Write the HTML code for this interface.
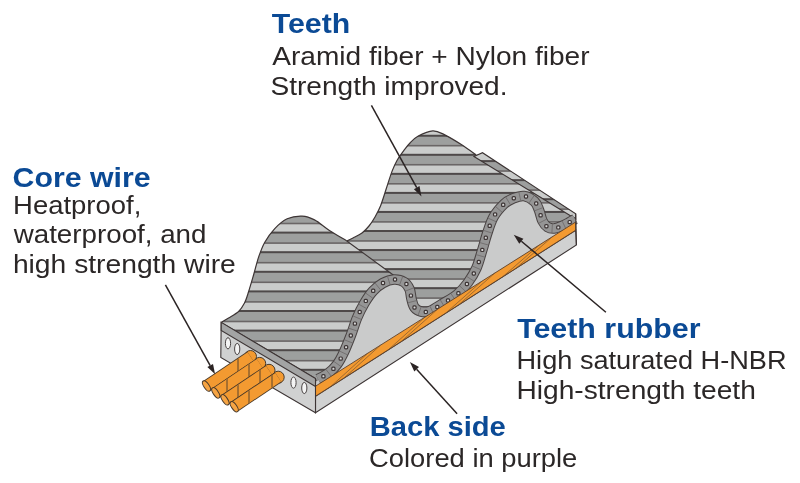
<!DOCTYPE html><html><head><meta charset="utf-8"><style>
html,body{margin:0;padding:0;background:#fff;width:800px;height:483px;overflow:hidden}
svg{display:block;will-change:transform}
.b{font-family:"Liberation Sans",sans-serif;font-weight:bold;fill:#0b4a95}
.r{font-family:"Liberation Sans",sans-serif;fill:#2b2727}
</style></head><body>
<svg width="800" height="483" viewBox="0 0 800 483">
<defs>
<clipPath id="ct1"><path d="M221.2,322.4 C222.4,321.7 225.7,319.8 228.6,318.0 C231.5,316.2 235.9,314.0 238.6,311.5 C241.2,309.0 242.8,306.2 244.5,303.0 C246.2,299.8 247.0,296.8 248.5,292.0 C250.0,287.2 252.0,280.3 253.7,274.5 C255.4,268.7 256.8,262.5 258.6,257.1 C260.5,251.7 262.1,246.9 264.8,242.2 C267.5,237.4 271.1,232.5 274.8,228.6 C278.5,224.7 282.6,220.9 287.2,218.8 C291.8,216.7 297.6,215.9 302.1,216.1 C306.7,216.3 309.9,217.5 314.5,219.9 C319.1,222.3 324.0,227.0 329.4,230.5 C334.8,234.0 343.9,239.2 346.8,241.0 L396,277 L400,290 L320,400 L315.5,378.5 Z"/></clipPath>
<clipPath id="ct2"><path d="M346.8,241.0 C347.8,240.5 350.5,239.3 353.0,238.0 C355.5,236.7 359.3,235.0 362.0,233.0 C364.7,231.0 366.8,228.7 369.0,226.0 C371.2,223.3 373.1,220.4 375.0,217.0 C376.9,213.6 378.7,210.5 380.6,205.7 C382.5,200.9 384.5,194.1 386.4,188.3 C388.3,182.5 390.4,175.5 392.2,170.9 C394.0,166.3 395.1,163.9 397.0,160.5 C398.9,157.1 401.6,153.5 403.8,150.6 C406.0,147.7 407.6,145.4 410.0,143.0 C412.4,140.6 414.5,138.0 418.3,136.0 C422.1,134.0 428.5,131.1 432.8,130.9 C437.1,130.7 439.5,132.3 444.3,134.6 C449.1,136.9 456.4,141.4 461.7,144.8 C467.0,148.2 473.8,153.3 476.2,155.0 L482.5,153.7 L575.7,213.8 L576,232 L430,330 L396,277 Z"/></clipPath>
<clipPath id="ct3"><polygon points="476.2,155.0 482.5,153.7 575.7,213.8 575.7,225.0 530.0,200.0 527.0,190.0"/></clipPath>
</defs>
<g clip-path="url(#ct2)"><rect x="150" y="120" width="470" height="220" fill="#9d9f9e"/>
<rect x="150" y="88.55" width="470" height="9.00" fill="#cacccb"/>
<rect x="150" y="87.75" width="470" height="1.6" fill="#6a6666"/>
<rect x="150" y="96.65" width="470" height="2.0" fill="#4e4949"/>
<rect x="150" y="107.60" width="470" height="9.00" fill="#cacccb"/>
<rect x="150" y="106.80" width="470" height="1.6" fill="#6a6666"/>
<rect x="150" y="115.70" width="470" height="2.0" fill="#4e4949"/>
<rect x="150" y="126.65" width="470" height="9.00" fill="#cacccb"/>
<rect x="150" y="125.85" width="470" height="1.6" fill="#6a6666"/>
<rect x="150" y="134.75" width="470" height="2.0" fill="#4e4949"/>
<rect x="150" y="145.70" width="470" height="9.00" fill="#cacccb"/>
<rect x="150" y="144.90" width="470" height="1.6" fill="#6a6666"/>
<rect x="150" y="153.80" width="470" height="2.0" fill="#4e4949"/>
<rect x="150" y="164.75" width="470" height="9.00" fill="#cacccb"/>
<rect x="150" y="163.95" width="470" height="1.6" fill="#6a6666"/>
<rect x="150" y="172.85" width="470" height="2.0" fill="#4e4949"/>
<rect x="150" y="183.80" width="470" height="9.00" fill="#cacccb"/>
<rect x="150" y="183.00" width="470" height="1.6" fill="#6a6666"/>
<rect x="150" y="191.90" width="470" height="2.0" fill="#4e4949"/>
<rect x="150" y="202.85" width="470" height="9.00" fill="#cacccb"/>
<rect x="150" y="202.05" width="470" height="1.6" fill="#6a6666"/>
<rect x="150" y="210.95" width="470" height="2.0" fill="#4e4949"/>
<rect x="150" y="221.90" width="470" height="9.00" fill="#cacccb"/>
<rect x="150" y="221.10" width="470" height="1.6" fill="#6a6666"/>
<rect x="150" y="230.00" width="470" height="2.0" fill="#4e4949"/>
<rect x="150" y="240.95" width="470" height="9.00" fill="#cacccb"/>
<rect x="150" y="240.15" width="470" height="1.6" fill="#6a6666"/>
<rect x="150" y="249.05" width="470" height="2.0" fill="#4e4949"/>
<rect x="150" y="260.00" width="470" height="9.00" fill="#cacccb"/>
<rect x="150" y="259.20" width="470" height="1.6" fill="#6a6666"/>
<rect x="150" y="268.10" width="470" height="2.0" fill="#4e4949"/>
<rect x="150" y="279.05" width="470" height="9.00" fill="#cacccb"/>
<rect x="150" y="278.25" width="470" height="1.6" fill="#6a6666"/>
<rect x="150" y="287.15" width="470" height="2.0" fill="#4e4949"/>
<rect x="150" y="298.10" width="470" height="9.00" fill="#cacccb"/>
<rect x="150" y="297.30" width="470" height="1.6" fill="#6a6666"/>
<rect x="150" y="306.20" width="470" height="2.0" fill="#4e4949"/>
<rect x="150" y="317.15" width="470" height="9.00" fill="#cacccb"/>
<rect x="150" y="316.35" width="470" height="1.6" fill="#6a6666"/>
<rect x="150" y="325.25" width="470" height="2.0" fill="#4e4949"/>
<rect x="150" y="336.20" width="470" height="9.00" fill="#cacccb"/>
<rect x="150" y="335.40" width="470" height="1.6" fill="#6a6666"/>
<rect x="150" y="344.30" width="470" height="2.0" fill="#4e4949"/></g>
<g clip-path="url(#ct1)"><rect x="150" y="200" width="470" height="190" fill="#9d9f9e"/>
<rect x="150" y="164.70" width="470" height="9.00" fill="#cacccb"/>
<rect x="150" y="163.90" width="470" height="1.6" fill="#6a6666"/>
<rect x="150" y="172.80" width="470" height="2.0" fill="#4e4949"/>
<rect x="150" y="184.30" width="470" height="9.00" fill="#cacccb"/>
<rect x="150" y="183.50" width="470" height="1.6" fill="#6a6666"/>
<rect x="150" y="192.40" width="470" height="2.0" fill="#4e4949"/>
<rect x="150" y="203.90" width="470" height="9.00" fill="#cacccb"/>
<rect x="150" y="203.10" width="470" height="1.6" fill="#6a6666"/>
<rect x="150" y="212.00" width="470" height="2.0" fill="#4e4949"/>
<rect x="150" y="223.50" width="470" height="9.00" fill="#cacccb"/>
<rect x="150" y="222.70" width="470" height="1.6" fill="#6a6666"/>
<rect x="150" y="231.60" width="470" height="2.0" fill="#4e4949"/>
<rect x="150" y="243.10" width="470" height="9.00" fill="#cacccb"/>
<rect x="150" y="242.30" width="470" height="1.6" fill="#6a6666"/>
<rect x="150" y="251.20" width="470" height="2.0" fill="#4e4949"/>
<rect x="150" y="262.70" width="470" height="9.00" fill="#cacccb"/>
<rect x="150" y="261.90" width="470" height="1.6" fill="#6a6666"/>
<rect x="150" y="270.80" width="470" height="2.0" fill="#4e4949"/>
<rect x="150" y="282.30" width="470" height="9.00" fill="#cacccb"/>
<rect x="150" y="281.50" width="470" height="1.6" fill="#6a6666"/>
<rect x="150" y="290.40" width="470" height="2.0" fill="#4e4949"/>
<rect x="150" y="301.90" width="470" height="9.00" fill="#cacccb"/>
<rect x="150" y="301.10" width="470" height="1.6" fill="#6a6666"/>
<rect x="150" y="310.00" width="470" height="2.0" fill="#4e4949"/>
<rect x="150" y="321.50" width="470" height="9.00" fill="#cacccb"/>
<rect x="150" y="320.70" width="470" height="1.6" fill="#6a6666"/>
<rect x="150" y="329.60" width="470" height="2.0" fill="#4e4949"/>
<rect x="150" y="341.10" width="470" height="9.00" fill="#cacccb"/>
<rect x="150" y="340.30" width="470" height="1.6" fill="#6a6666"/>
<rect x="150" y="349.20" width="470" height="2.0" fill="#4e4949"/>
<rect x="150" y="360.70" width="470" height="9.00" fill="#cacccb"/>
<rect x="150" y="359.90" width="470" height="1.6" fill="#6a6666"/>
<rect x="150" y="368.80" width="470" height="2.0" fill="#4e4949"/>
<rect x="150" y="380.30" width="470" height="9.00" fill="#cacccb"/>
<rect x="150" y="379.50" width="470" height="1.6" fill="#6a6666"/>
<rect x="150" y="388.40" width="470" height="2.0" fill="#4e4949"/></g>
<path d="M221.2,322.4 C222.4,321.7 225.7,319.8 228.6,318.0 C231.5,316.2 235.9,314.0 238.6,311.5 C241.2,309.0 242.8,306.2 244.5,303.0 C246.2,299.8 247.0,296.8 248.5,292.0 C250.0,287.2 252.0,280.3 253.7,274.5 C255.4,268.7 256.8,262.5 258.6,257.1 C260.5,251.7 262.1,246.9 264.8,242.2 C267.5,237.4 271.1,232.5 274.8,228.6 C278.5,224.7 282.6,220.9 287.2,218.8 C291.8,216.7 297.6,215.9 302.1,216.1 C306.7,216.3 309.9,217.5 314.5,219.9 C319.1,222.3 324.0,227.0 329.4,230.5 C334.8,234.0 343.9,239.2 346.8,241.0" fill="none" stroke="#3d3535" stroke-width="1.2"/>
<path d="M346.8,241.0 C347.8,240.5 350.5,239.3 353.0,238.0 C355.5,236.7 359.3,235.0 362.0,233.0 C364.7,231.0 366.8,228.7 369.0,226.0 C371.2,223.3 373.1,220.4 375.0,217.0 C376.9,213.6 378.7,210.5 380.6,205.7 C382.5,200.9 384.5,194.1 386.4,188.3 C388.3,182.5 390.4,175.5 392.2,170.9 C394.0,166.3 395.1,163.9 397.0,160.5 C398.9,157.1 401.6,153.5 403.8,150.6 C406.0,147.7 407.6,145.4 410.0,143.0 C412.4,140.6 414.5,138.0 418.3,136.0 C422.1,134.0 428.5,131.1 432.8,130.9 C437.1,130.7 439.5,132.3 444.3,134.6 C449.1,136.9 456.4,141.4 461.7,144.8 C467.0,148.2 473.8,153.3 476.2,155.0" fill="none" stroke="#3d3535" stroke-width="1.2"/>
<polyline points="346.8,241.0 396.0,277.0" fill="none" stroke="#3d3535" stroke-width="1.1"/>
<clipPath id="cst"><polygon points="474.0,156.5 482.5,152.7 575.7,213.8 575.7,219.0 540.0,197.0"/></clipPath>
<g clip-path="url(#cst)"><rect x="150" y="140" width="470" height="100" fill="#9d9f9e"/>
<rect x="150" y="113.90" width="470" height="9.00" fill="#cacccb"/>
<rect x="150" y="113.10" width="470" height="1.6" fill="#6a6666"/>
<rect x="150" y="122.00" width="470" height="2.0" fill="#4e4949"/>
<rect x="150" y="132.95" width="470" height="9.00" fill="#cacccb"/>
<rect x="150" y="132.15" width="470" height="1.6" fill="#6a6666"/>
<rect x="150" y="141.05" width="470" height="2.0" fill="#4e4949"/>
<rect x="150" y="152.00" width="470" height="9.00" fill="#cacccb"/>
<rect x="150" y="151.20" width="470" height="1.6" fill="#6a6666"/>
<rect x="150" y="160.10" width="470" height="2.0" fill="#4e4949"/>
<rect x="150" y="171.05" width="470" height="9.00" fill="#cacccb"/>
<rect x="150" y="170.25" width="470" height="1.6" fill="#6a6666"/>
<rect x="150" y="179.15" width="470" height="2.0" fill="#4e4949"/>
<rect x="150" y="190.10" width="470" height="9.00" fill="#cacccb"/>
<rect x="150" y="189.30" width="470" height="1.6" fill="#6a6666"/>
<rect x="150" y="198.20" width="470" height="2.0" fill="#4e4949"/>
<rect x="150" y="209.15" width="470" height="9.00" fill="#cacccb"/>
<rect x="150" y="208.35" width="470" height="1.6" fill="#6a6666"/>
<rect x="150" y="217.25" width="470" height="2.0" fill="#4e4949"/>
<rect x="150" y="228.20" width="470" height="9.00" fill="#cacccb"/>
<rect x="150" y="227.40" width="470" height="1.6" fill="#6a6666"/>
<rect x="150" y="236.30" width="470" height="2.0" fill="#4e4949"/></g>
<polygon points="474.0,156.5 482.5,152.7 575.7,213.8 575.7,219.0 540.0,197.0" fill="none" stroke="#3d3535" stroke-width="1.1"/>
<path d="M318.0,379.0 C319.7,378.1 324.8,375.9 328.0,373.5 C331.2,371.1 334.3,368.1 337.0,364.5 C339.7,360.9 341.7,356.9 344.0,352.0 C346.3,347.1 348.8,340.7 351.0,335.0 C353.2,329.3 354.8,323.3 357.0,318.0 C359.2,312.7 361.8,307.5 364.5,303.0 C367.2,298.5 369.9,294.3 373.0,291.0 C376.1,287.7 379.5,284.9 383.0,283.0 C386.5,281.1 390.5,279.7 394.0,279.5 C397.5,279.3 401.4,280.4 404.0,282.0 C406.6,283.6 408.2,286.2 409.5,289.0 C410.8,291.8 410.7,295.9 411.5,299.0 C412.3,302.1 412.9,305.4 414.5,307.5 C416.1,309.6 418.4,310.9 421.0,311.5 C423.6,312.1 426.5,312.2 430.0,311.0 C433.5,309.8 437.5,306.8 442.0,304.0 C446.5,301.2 452.7,298.1 457.0,294.5 C461.3,290.9 464.8,286.9 468.0,282.5 C471.2,278.1 474.2,273.2 476.5,268.0 C478.8,262.8 480.2,256.7 482.0,251.0 C483.8,245.3 485.1,239.7 487.0,234.0 C488.9,228.3 490.7,222.0 493.5,217.0 C496.3,212.0 500.8,207.1 504.0,204.0 C507.2,200.9 509.7,199.8 513.0,198.5 C516.3,197.2 520.4,195.5 524.0,196.0 C527.6,196.5 532.0,199.2 534.5,201.5 C537.0,203.8 537.7,206.8 539.0,210.0 C540.3,213.2 541.1,218.2 542.5,221.0 C543.9,223.8 545.6,225.8 547.5,227.0 C549.4,228.2 551.6,228.7 554.0,228.5 C556.4,228.3 559.5,227.0 562.0,226.0 C564.5,225.0 566.8,223.7 569.0,222.5 C571.2,221.3 574.0,219.6 575.0,219.0 L575.7,222.2 L315.5,386.4 Z" fill="#cacbcb" stroke="none"/>
<path d="M318.0,379.0 C319.7,378.1 324.8,375.9 328.0,373.5 C331.2,371.1 334.3,368.1 337.0,364.5 C339.7,360.9 341.7,356.9 344.0,352.0 C346.3,347.1 348.8,340.7 351.0,335.0 C353.2,329.3 354.8,323.3 357.0,318.0 C359.2,312.7 361.8,307.5 364.5,303.0 C367.2,298.5 369.9,294.3 373.0,291.0 C376.1,287.7 379.5,284.9 383.0,283.0 C386.5,281.1 390.5,279.7 394.0,279.5 C397.5,279.3 401.4,280.4 404.0,282.0 C406.6,283.6 408.2,286.2 409.5,289.0 C410.8,291.8 410.7,295.9 411.5,299.0 C412.3,302.1 412.9,305.4 414.5,307.5 C416.1,309.6 418.4,310.9 421.0,311.5 C423.6,312.1 426.5,312.2 430.0,311.0 C433.5,309.8 437.5,306.8 442.0,304.0 C446.5,301.2 452.7,298.1 457.0,294.5 C461.3,290.9 464.8,286.9 468.0,282.5 C471.2,278.1 474.2,273.2 476.5,268.0 C478.8,262.8 480.2,256.7 482.0,251.0 C483.8,245.3 485.1,239.7 487.0,234.0 C488.9,228.3 490.7,222.0 493.5,217.0 C496.3,212.0 500.8,207.1 504.0,204.0 C507.2,200.9 509.7,199.8 513.0,198.5 C516.3,197.2 520.4,195.5 524.0,196.0 C527.6,196.5 532.0,199.2 534.5,201.5 C537.0,203.8 537.7,206.8 539.0,210.0 C540.3,213.2 541.1,218.2 542.5,221.0 C543.9,223.8 545.6,225.8 547.5,227.0 C549.4,228.2 551.6,228.7 554.0,228.5 C556.4,228.3 559.5,227.0 562.0,226.0 C564.5,225.0 566.8,223.7 569.0,222.5 C571.2,221.3 574.0,219.6 575.0,219.0" fill="none" stroke="#4a4444" stroke-width="10.6" stroke-linejoin="round"/>
<path d="M318.0,379.0 C319.7,378.1 324.8,375.9 328.0,373.5 C331.2,371.1 334.3,368.1 337.0,364.5 C339.7,360.9 341.7,356.9 344.0,352.0 C346.3,347.1 348.8,340.7 351.0,335.0 C353.2,329.3 354.8,323.3 357.0,318.0 C359.2,312.7 361.8,307.5 364.5,303.0 C367.2,298.5 369.9,294.3 373.0,291.0 C376.1,287.7 379.5,284.9 383.0,283.0 C386.5,281.1 390.5,279.7 394.0,279.5 C397.5,279.3 401.4,280.4 404.0,282.0 C406.6,283.6 408.2,286.2 409.5,289.0 C410.8,291.8 410.7,295.9 411.5,299.0 C412.3,302.1 412.9,305.4 414.5,307.5 C416.1,309.6 418.4,310.9 421.0,311.5 C423.6,312.1 426.5,312.2 430.0,311.0 C433.5,309.8 437.5,306.8 442.0,304.0 C446.5,301.2 452.7,298.1 457.0,294.5 C461.3,290.9 464.8,286.9 468.0,282.5 C471.2,278.1 474.2,273.2 476.5,268.0 C478.8,262.8 480.2,256.7 482.0,251.0 C483.8,245.3 485.1,239.7 487.0,234.0 C488.9,228.3 490.7,222.0 493.5,217.0 C496.3,212.0 500.8,207.1 504.0,204.0 C507.2,200.9 509.7,199.8 513.0,198.5 C516.3,197.2 520.4,195.5 524.0,196.0 C527.6,196.5 532.0,199.2 534.5,201.5 C537.0,203.8 537.7,206.8 539.0,210.0 C540.3,213.2 541.1,218.2 542.5,221.0 C543.9,223.8 545.6,225.8 547.5,227.0 C549.4,228.2 551.6,228.7 554.0,228.5 C556.4,228.3 559.5,227.0 562.0,226.0 C564.5,225.0 566.8,223.7 569.0,222.5 C571.2,221.3 574.0,219.6 575.0,219.0" fill="none" stroke="#959595" stroke-width="8.6" stroke-linejoin="round"/>
<rect x="321.8" y="374.7" width="3.2" height="3.2" rx="1.0" fill="#d8d8d8" stroke="#3d3535" stroke-width="1.2"/>
<rect x="331.8" y="367.2" width="3.2" height="3.2" rx="1.0" fill="#d8d8d8" stroke="#3d3535" stroke-width="1.2"/>
<rect x="339.1" y="357.0" width="3.2" height="3.2" rx="1.0" fill="#d8d8d8" stroke="#3d3535" stroke-width="1.2"/>
<rect x="344.5" y="345.6" width="3.2" height="3.2" rx="1.0" fill="#d8d8d8" stroke="#3d3535" stroke-width="1.2"/>
<rect x="349.2" y="333.9" width="3.2" height="3.2" rx="1.0" fill="#d8d8d8" stroke="#3d3535" stroke-width="1.2"/>
<rect x="353.3" y="322.0" width="3.2" height="3.2" rx="1.0" fill="#d8d8d8" stroke="#3d3535" stroke-width="1.2"/>
<rect x="358.1" y="310.4" width="3.2" height="3.2" rx="1.0" fill="#d8d8d8" stroke="#3d3535" stroke-width="1.2"/>
<rect x="364.2" y="299.3" width="3.2" height="3.2" rx="1.0" fill="#d8d8d8" stroke="#3d3535" stroke-width="1.2"/>
<rect x="371.6" y="289.2" width="3.2" height="3.2" rx="1.0" fill="#d8d8d8" stroke="#3d3535" stroke-width="1.2"/>
<rect x="381.4" y="281.4" width="3.2" height="3.2" rx="1.0" fill="#d8d8d8" stroke="#3d3535" stroke-width="1.2"/>
<rect x="393.4" y="277.9" width="3.2" height="3.2" rx="1.0" fill="#d8d8d8" stroke="#3d3535" stroke-width="1.2"/>
<rect x="404.8" y="282.4" width="3.2" height="3.2" rx="1.0" fill="#d8d8d8" stroke="#3d3535" stroke-width="1.2"/>
<rect x="409.3" y="294.0" width="3.2" height="3.2" rx="1.0" fill="#d8d8d8" stroke="#3d3535" stroke-width="1.2"/>
<rect x="412.9" y="305.9" width="3.2" height="3.2" rx="1.0" fill="#d8d8d8" stroke="#3d3535" stroke-width="1.2"/>
<rect x="424.2" y="310.3" width="3.2" height="3.2" rx="1.0" fill="#d8d8d8" stroke="#3d3535" stroke-width="1.2"/>
<rect x="435.7" y="305.4" width="3.2" height="3.2" rx="1.0" fill="#d8d8d8" stroke="#3d3535" stroke-width="1.2"/>
<rect x="446.4" y="298.9" width="3.2" height="3.2" rx="1.0" fill="#d8d8d8" stroke="#3d3535" stroke-width="1.2"/>
<rect x="456.8" y="291.7" width="3.2" height="3.2" rx="1.0" fill="#d8d8d8" stroke="#3d3535" stroke-width="1.2"/>
<rect x="465.3" y="282.4" width="3.2" height="3.2" rx="1.0" fill="#d8d8d8" stroke="#3d3535" stroke-width="1.2"/>
<rect x="472.2" y="271.9" width="3.2" height="3.2" rx="1.0" fill="#d8d8d8" stroke="#3d3535" stroke-width="1.2"/>
<rect x="477.2" y="260.4" width="3.2" height="3.2" rx="1.0" fill="#d8d8d8" stroke="#3d3535" stroke-width="1.2"/>
<rect x="480.7" y="248.3" width="3.2" height="3.2" rx="1.0" fill="#d8d8d8" stroke="#3d3535" stroke-width="1.2"/>
<rect x="484.2" y="236.2" width="3.2" height="3.2" rx="1.0" fill="#d8d8d8" stroke="#3d3535" stroke-width="1.2"/>
<rect x="488.1" y="224.2" width="3.2" height="3.2" rx="1.0" fill="#d8d8d8" stroke="#3d3535" stroke-width="1.2"/>
<rect x="493.5" y="212.8" width="3.2" height="3.2" rx="1.0" fill="#d8d8d8" stroke="#3d3535" stroke-width="1.2"/>
<rect x="501.6" y="203.2" width="3.2" height="3.2" rx="1.0" fill="#d8d8d8" stroke="#3d3535" stroke-width="1.2"/>
<rect x="512.2" y="196.6" width="3.2" height="3.2" rx="1.0" fill="#d8d8d8" stroke="#3d3535" stroke-width="1.2"/>
<rect x="524.4" y="194.9" width="3.2" height="3.2" rx="1.0" fill="#d8d8d8" stroke="#3d3535" stroke-width="1.2"/>
<rect x="534.6" y="201.9" width="3.2" height="3.2" rx="1.0" fill="#d8d8d8" stroke="#3d3535" stroke-width="1.2"/>
<rect x="539.0" y="213.7" width="3.2" height="3.2" rx="1.0" fill="#d8d8d8" stroke="#3d3535" stroke-width="1.2"/>
<rect x="544.8" y="224.6" width="3.2" height="3.2" rx="1.0" fill="#d8d8d8" stroke="#3d3535" stroke-width="1.2"/>
<rect x="556.7" y="225.8" width="3.2" height="3.2" rx="1.0" fill="#d8d8d8" stroke="#3d3535" stroke-width="1.2"/>
<rect x="568.1" y="220.5" width="3.2" height="3.2" rx="1.0" fill="#d8d8d8" stroke="#3d3535" stroke-width="1.2"/>
<line x1="326.0" y1="369.5" x2="331.4" y2="376.4" stroke="#666262" stroke-width="0.7"/>
<line x1="333.8" y1="361.4" x2="341.0" y2="366.5" stroke="#666262" stroke-width="0.7"/>
<line x1="339.6" y1="351.1" x2="347.5" y2="354.8" stroke="#666262" stroke-width="0.7"/>
<line x1="344.4" y1="339.8" x2="352.6" y2="343.0" stroke="#666262" stroke-width="0.7"/>
<line x1="348.7" y1="328.2" x2="357.1" y2="331.0" stroke="#666262" stroke-width="0.7"/>
<line x1="353.1" y1="316.0" x2="361.2" y2="319.4" stroke="#666262" stroke-width="0.7"/>
<line x1="358.7" y1="304.2" x2="366.5" y2="308.5" stroke="#666262" stroke-width="0.7"/>
<line x1="365.7" y1="293.1" x2="372.8" y2="298.2" stroke="#666262" stroke-width="0.7"/>
<line x1="375.1" y1="283.1" x2="380.6" y2="289.9" stroke="#666262" stroke-width="0.7"/>
<line x1="387.5" y1="276.3" x2="390.1" y2="284.7" stroke="#666262" stroke-width="0.7"/>
<line x1="402.7" y1="276.5" x2="399.6" y2="284.8" stroke="#666262" stroke-width="0.7"/>
<line x1="413.8" y1="287.8" x2="405.6" y2="291.0" stroke="#666262" stroke-width="0.7"/>
<line x1="416.5" y1="300.6" x2="407.9" y2="302.8" stroke="#666262" stroke-width="0.7"/>
<line x1="421.1" y1="307.0" x2="418.1" y2="315.2" stroke="#666262" stroke-width="0.7"/>
<line x1="430.0" y1="306.2" x2="433.7" y2="314.2" stroke="#666262" stroke-width="0.7"/>
<line x1="440.3" y1="299.9" x2="444.8" y2="307.4" stroke="#666262" stroke-width="0.7"/>
<line x1="450.9" y1="293.5" x2="455.8" y2="300.8" stroke="#666262" stroke-width="0.7"/>
<line x1="459.6" y1="285.9" x2="466.1" y2="291.8" stroke="#666262" stroke-width="0.7"/>
<line x1="466.8" y1="276.5" x2="474.2" y2="281.3" stroke="#666262" stroke-width="0.7"/>
<line x1="472.5" y1="266.1" x2="480.6" y2="269.6" stroke="#666262" stroke-width="0.7"/>
<line x1="476.3" y1="254.7" x2="484.8" y2="257.1" stroke="#666262" stroke-width="0.7"/>
<line x1="479.8" y1="242.6" x2="488.3" y2="245.0" stroke="#666262" stroke-width="0.7"/>
<line x1="483.6" y1="230.4" x2="491.9" y2="233.1" stroke="#666262" stroke-width="0.7"/>
<line x1="488.0" y1="218.1" x2="496.0" y2="221.7" stroke="#666262" stroke-width="0.7"/>
<line x1="495.6" y1="206.6" x2="502.2" y2="212.3" stroke="#666262" stroke-width="0.7"/>
<line x1="505.8" y1="197.1" x2="510.3" y2="204.6" stroke="#666262" stroke-width="0.7"/>
<line x1="518.8" y1="191.9" x2="520.7" y2="200.5" stroke="#666262" stroke-width="0.7"/>
<line x1="534.1" y1="195.6" x2="529.1" y2="202.9" stroke="#666262" stroke-width="0.7"/>
<line x1="542.8" y1="207.7" x2="534.6" y2="210.8" stroke="#666262" stroke-width="0.7"/>
<line x1="546.5" y1="219.2" x2="538.7" y2="223.3" stroke="#666262" stroke-width="0.7"/>
<line x1="552.4" y1="224.1" x2="551.9" y2="232.9" stroke="#666262" stroke-width="0.7"/>
<line x1="562.2" y1="221.1" x2="566.0" y2="229.0" stroke="#666262" stroke-width="0.7"/>
<polygon points="315.5,396.2 575.7,230.2 576.4,245.0 315.5,412.8" fill="#d0d1d1" stroke="#3d3535" stroke-width="1.1"/>
<polygon points="315.5,386.2 575.7,222.0 575.7,230.2 315.5,396.2" fill="#f39a31" stroke="#5e4028" stroke-width="0.9"/>
<line x1="331.1" y1="386.2" x2="367.5" y2="353.4" stroke="#7a5630" stroke-width="0.7"/><line x1="344.1" y1="377.9" x2="380.6" y2="345.1" stroke="#7a5630" stroke-width="0.7"/><line x1="388.4" y1="349.7" x2="424.8" y2="317.2" stroke="#7a5630" stroke-width="0.7"/><line x1="401.4" y1="341.4" x2="437.8" y2="309.0" stroke="#7a5630" stroke-width="0.7"/><line x1="445.6" y1="313.2" x2="482.0" y2="281.1" stroke="#7a5630" stroke-width="0.7"/><line x1="458.6" y1="304.9" x2="495.0" y2="272.9" stroke="#7a5630" stroke-width="0.7"/><line x1="502.8" y1="276.7" x2="539.3" y2="245.0" stroke="#7a5630" stroke-width="0.7"/><line x1="515.9" y1="268.4" x2="552.3" y2="236.8" stroke="#7a5630" stroke-width="0.7"/>
<line x1="575.7" y1="213.8" x2="576.4" y2="245.0" stroke="#3d3535" stroke-width="1.1"/>
<polygon points="221.2,322.4 315.5,378.5 315.5,412.8 220.8,357.5" fill="#d0d1d1" stroke="#3d3535" stroke-width="1.1"/>
<polygon points="221.2,322.4 315.5,378.5 315.5,386.5 221.2,330.5" fill="#a3a4a4" stroke="#3d3535" stroke-width="1.1"/>
<ellipse cx="228" cy="343.3" rx="2.6" ry="5.6" fill="#f4f4f4" stroke="#4a4444" stroke-width="1"/>
<ellipse cx="237.2" cy="349" rx="2.6" ry="5.6" fill="#f4f4f4" stroke="#4a4444" stroke-width="1"/>
<ellipse cx="293.5" cy="382.6" rx="2.6" ry="5.6" fill="#f4f4f4" stroke="#4a4444" stroke-width="1"/>
<ellipse cx="304.3" cy="388" rx="2.6" ry="5.6" fill="#f4f4f4" stroke="#4a4444" stroke-width="1"/>
<clipPath id="w0"><polygon points="209.3,390.1 253.3,360.6 247.7,352.3 203.7,381.9"/></clipPath>
<clipPath id="w1"><polygon points="218.5,397.0 262.5,367.5 257.0,359.2 213.0,388.8"/></clipPath>
<clipPath id="w2"><polygon points="227.8,403.9 271.8,374.4 266.2,366.1 222.2,395.7"/></clipPath>
<clipPath id="w3"><polygon points="237.0,410.8 281.0,381.3 275.5,373.0 231.5,402.6"/></clipPath>
<circle cx="250.5" cy="356.5" r="6.0" fill="#f39a31" stroke="#4a3a2a" stroke-width="1.0"/>
<line x1="206.5" y1="386.0" x2="250.5" y2="356.5" stroke="#4a3a2a" stroke-width="12.0"/>
<line x1="206.5" y1="386.0" x2="250.5" y2="356.5" stroke="#f39a31" stroke-width="10.4"/>
<ellipse cx="206.5" cy="386.0" rx="2.6" ry="6.0" transform="rotate(-34 206.5 386.0)" fill="#f6a443" stroke="#4a3a2a" stroke-width="1.0"/>
<g clip-path="url(#w0)"><line x1="238" y1="358.4" x2="238" y2="371.4" stroke="#4a3a2a" stroke-width="0.9"/><line x1="258" y1="344.9" x2="258" y2="357.9" stroke="#4a3a2a" stroke-width="0.9"/></g>
<circle cx="259.7" cy="363.4" r="6.0" fill="#f39a31" stroke="#4a3a2a" stroke-width="1.0"/>
<line x1="215.8" y1="392.9" x2="259.7" y2="363.4" stroke="#4a3a2a" stroke-width="12.0"/>
<line x1="215.8" y1="392.9" x2="259.7" y2="363.4" stroke="#f39a31" stroke-width="10.4"/>
<ellipse cx="215.8" cy="392.9" rx="2.6" ry="6.0" transform="rotate(-34 215.8 392.9)" fill="#f6a443" stroke="#4a3a2a" stroke-width="1.0"/>
<g clip-path="url(#w1)"><line x1="227" y1="378.9" x2="227" y2="391.9" stroke="#4a3a2a" stroke-width="0.9"/><line x1="249" y1="364.1" x2="249" y2="377.1" stroke="#4a3a2a" stroke-width="0.9"/></g>
<circle cx="269.0" cy="370.3" r="6.0" fill="#f39a31" stroke="#4a3a2a" stroke-width="1.0"/>
<line x1="225.0" y1="399.8" x2="269.0" y2="370.3" stroke="#4a3a2a" stroke-width="12.0"/>
<line x1="225.0" y1="399.8" x2="269.0" y2="370.3" stroke="#f39a31" stroke-width="10.4"/>
<ellipse cx="225.0" cy="399.8" rx="2.6" ry="6.0" transform="rotate(-34 225.0 399.8)" fill="#f6a443" stroke="#4a3a2a" stroke-width="1.0"/>
<g clip-path="url(#w2)"><line x1="238" y1="384.6" x2="238" y2="397.6" stroke="#4a3a2a" stroke-width="0.9"/><line x1="260" y1="369.8" x2="260" y2="382.8" stroke="#4a3a2a" stroke-width="0.9"/></g>
<circle cx="278.2" cy="377.2" r="6.0" fill="#f39a31" stroke="#4a3a2a" stroke-width="1.0"/>
<line x1="234.2" y1="406.7" x2="278.2" y2="377.2" stroke="#4a3a2a" stroke-width="12.0"/>
<line x1="234.2" y1="406.7" x2="278.2" y2="377.2" stroke="#f39a31" stroke-width="10.4"/>
<ellipse cx="234.2" cy="406.7" rx="2.6" ry="6.0" transform="rotate(-34 234.2 406.7)" fill="#f6a443" stroke="#4a3a2a" stroke-width="1.0"/>
<g clip-path="url(#w3)"><line x1="249" y1="390.3" x2="249" y2="403.3" stroke="#4a3a2a" stroke-width="0.9"/><line x1="272" y1="374.9" x2="272" y2="387.9" stroke="#4a3a2a" stroke-width="0.9"/></g>
<line x1="371.4" y1="105.3" x2="416.7" y2="187.6" stroke="#2b2424" stroke-width="1.5"/><polygon points="421.5,196.4 413.9,189.2 419.5,186.1" fill="#2b2424"/>
<line x1="165.4" y1="284.9" x2="210.2" y2="365.6" stroke="#2b2424" stroke-width="1.5"/><polygon points="215.1,374.3 207.4,367.1 213.0,364.0" fill="#2b2424"/>
<line x1="605.9" y1="312.3" x2="521.4" y2="241.2" stroke="#2b2424" stroke-width="1.5"/><polygon points="513.7,234.8 523.4,238.8 519.3,243.7" fill="#2b2424"/>
<line x1="457.1" y1="413.7" x2="416.6" y2="369.3" stroke="#2b2424" stroke-width="1.5"/><polygon points="409.9,361.9 419.0,367.1 414.3,371.4" fill="#2b2424"/>
<text class="b" x="271.8" y="32.8" font-size="27" textLength="78.4" lengthAdjust="spacingAndGlyphs">Teeth</text>
<text class="r" x="272.3" y="65.2" font-size="25" textLength="317.2" lengthAdjust="spacingAndGlyphs">Aramid fiber + Nylon fiber</text>
<text class="r" x="270.5" y="94.5" font-size="25" textLength="237.0" lengthAdjust="spacingAndGlyphs">Strength improved.</text>
<text class="b" x="12.6" y="186.5" font-size="27" textLength="137.9" lengthAdjust="spacingAndGlyphs">Core wire</text>
<text class="r" x="13.1" y="213.7" font-size="25" textLength="128.2" lengthAdjust="spacingAndGlyphs">Heatproof,</text>
<text class="r" x="13.7" y="243" font-size="25" textLength="192.8" lengthAdjust="spacingAndGlyphs">waterproof, and</text>
<text class="r" x="12.9" y="272.5" font-size="25" textLength="222.9" lengthAdjust="spacingAndGlyphs">high strength wire</text>
<text class="b" x="517.2" y="338" font-size="27" textLength="183.3" lengthAdjust="spacingAndGlyphs">Teeth rubber</text>
<text class="r" x="516.5" y="369" font-size="25" textLength="270.1" lengthAdjust="spacingAndGlyphs">High saturated H-NBR</text>
<text class="r" x="516.5" y="399" font-size="25" textLength="239.3" lengthAdjust="spacingAndGlyphs">High-strength teeth</text>
<text class="b" x="369.7" y="435.7" font-size="27" textLength="136.1" lengthAdjust="spacingAndGlyphs">Back side</text>
<text class="r" x="369.1" y="466.5" font-size="25" textLength="208.2" lengthAdjust="spacingAndGlyphs">Colored in purple</text>
</svg></body></html>
